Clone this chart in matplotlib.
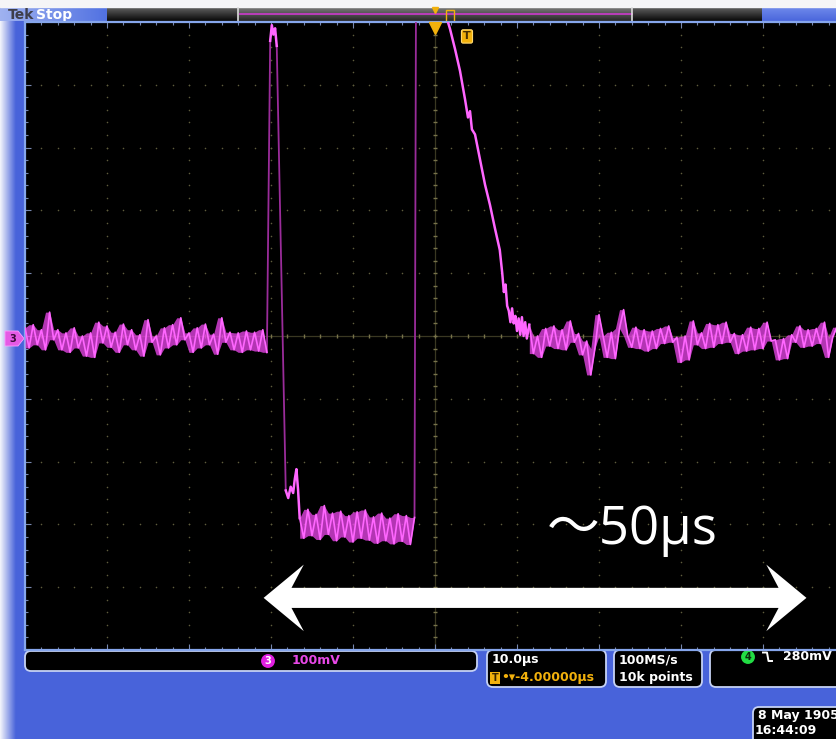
import numpy as np
import matplotlib.pyplot as plt
from matplotlib.patches import Polygon, FancyBboxPatch, Rectangle
from matplotlib.colors import LinearSegmentedColormap
from matplotlib.ticker import MultipleLocator

W, H = 837, 739
DT = 0.5  # sample step of the noisy sections, us

# channel 3 trace: time in us, level in mV (100 mV/div, 10 us/div)
base_left_t0 = -50.0
base_left_mv = [13, -19, 18, -14, 10, -22, 38, -6, 10, -22, 5, -26, 13, -19, 0, -32,
                5, -34, 22, -11, 16, -18, 6, -26, 19, -14, 10, -22, 2, -32, 26, -10,
                0, -30, 13, -19, 18, -14, 29, -6, 5, -26, 13, -19, 19, -14, 3, -29,
                29, -10, 6, -22, 5, -26, 8, -22, 6, -24, 10, -26]

spike_top_t = [-20.1, -19.9, -19.7, -19.5, -19.3]
spike_top_mv = [470, 495, 480, 490, 462]

bump_t = [-18.2, -17.9, -17.6, -17.3, -17.1, -16.9, -16.7, -16.5]
bump_mv = [-246, -258, -240, -250, -228, -212, -245, -290]

plateau_t0 = -16.5
plateau_mv = [-290, -322, -276, -318, -284, -324, -270, -316, -282, -326, -279, -320,
              -286, -328, -280, -322, -277, -325, -288, -330, -282, -326, -290, -331,
              -283, -327, -286, -332, -289]

ramp_t = [1.2, 1.46, 1.83, 2.44, 3.05, 3.66, 4.02, 4.27, 4.5, 4.88, 5.49, 6.1, 6.7,
          7.3, 7.9, 8.2, 8.4, 8.6, 8.8, 9.0, 9.2, 9.4, 9.6, 9.8, 10.0, 10.2, 10.4,
          10.6, 10.8, 11.0, 11.2, 11.5]
ramp_mv = [560, 505, 489, 457, 422, 377, 348, 358, 329, 321, 281, 241, 209,
           172, 137, 100, 70, 82, 48, 40, 22, 44, 20, 32, 8, 28, 2, 30, 0, 22, -4, 18]

base_right_t0 = 11.5
base_right_mv = [18, -28, 0, -34, 12, -16, 16, -20, 10, -22, 24, -10, 4, -30, -8, -62,
                 -20, 34, 0, -34, 6, -36, 12, 42, 0, -18, 14, -20, 10, -24, 8, -20,
                 12, -12, 16, -10, -2, -42, 0, -38, 24, -14, 5, -20, 20, -18, 18, -12,
                 22, -10, 4, -28, 2, -24, 14, -22, 12, -20, 22, -8, -6, -38, -4, -36,
                 2, -10, 16, -18, 10, -16, 12, -12, 22, -34, -2, 14]

# fast edges, only a few acquired points each
edges_t = [[-20.5, -20.1], [-19.3, -18.2], [-2.5, -2.3]]
edges_mv = [[-26, 470], [462, -246], [-289, 620]]

# readouts
ch_label, ch_scale = '3', '100mV'
time_scale, trig_pos = '10.0µs', '-4.00000µs'
sample_rate, record_len = '100MS/s', '10k points'
trig_ch, trig_level = '4', '280mV'
date_str, clock_str = '8 May 1905', '16:44:09'
span_text = '～50μs'

BLUE = '#4863da'
MAG = '#f048f0'
MAG_HI = '#ff66ff'
DIM = '#9a2c9a'
ORANGE = '#f2b10c'
UIFONT = dict(family='DejaVu Sans', fontweight='bold')

fig = plt.figure(figsize=(W / 100, H / 100), dpi=100, facecolor=BLUE)

# ---- instrument frame, in pixel units ----
bg = fig.add_axes([0, 0, 1, 1])
bg.axis('off')


def grad(x0, x1, y0, y1, c0, c1, horizontal=False):
    cm = LinearSegmentedColormap.from_list('g', [c0, c1])
    g = np.linspace(0, 1, 64)
    img = g[None, :] if horizontal else g[:, None]
    bg.imshow(img, cmap=cm, extent=(x0, x1, y1, y0), aspect='auto',
              interpolation='bilinear', zorder=1)


bg.add_patch(Rectangle((0, 0), W, H, color=BLUE, zorder=0))
grad(0, 16, 0, H, '#f4f5fb', BLUE, horizontal=True)
bg.add_patch(Rectangle((0, 0), W, 7, color='#f5f5f7', zorder=2))
grad(0, 107, 7, 21, '#9fb2f0', '#5272e2', horizontal=True)
grad(107, 762, 8, 21, '#5c5c5c', '#080808')
grad(238, 632, 8, 21, '#767676', '#262626')
grad(762, W, 8, 21, '#6d88ea', '#4a66dc')
bg.plot([240, 632], [14, 14], color='#c23cc2', lw=1.3, zorder=3)
for xb in (238, 632):
    bg.plot([xb, xb], [8, 21], color='#dcdcdc', lw=1.2, zorder=3)
bg.plot(435, 9.5, marker='v', ms=5, color=ORANGE, zorder=4)
bg.add_patch(Rectangle((446, 10), 8, 12, fc='none', ec=ORANGE, lw=1, zorder=4))
bg.text(8, 15, 'Tek', color='#3e3e4a', fontsize=10, va='center', zorder=4, **UIFONT)
bg.text(36, 14.5, 'Stop', color='white', fontsize=10, va='center', zorder=4, **UIFONT)

# channel 3 ground marker
bg.add_patch(Polygon([(5, 331), (18, 331), (24, 338.5), (18, 346), (5, 346)],
                     closed=True, fc='#e55ae5', ec='#ff9cff', lw=0.6, zorder=4))
bg.text(13, 338.5, ch_label, color='#3a0a3a', fontsize=7, ha='center', va='center',
        zorder=5, **UIFONT)

# readout boxes along the bottom
for (x0, y0, x1, y1) in [(25, 651, 477, 671), (487, 650, 606, 687),
                         (614, 650, 702, 687), (710, 650, 860, 687),
                         (753, 707, 860, 750)]:
    bg.add_patch(FancyBboxPatch((x0, y0), x1 - x0, y1 - y0,
                                boxstyle='round,pad=0,rounding_size=6',
                                fc='black', ec='#c6d2f4', lw=1.3, zorder=2))

bg.text(268, 661, ch_label, color='white', fontsize=7, ha='center', va='center', zorder=4,
        bbox=dict(boxstyle='circle,pad=0.2', fc='#e020e0', ec='none'), **UIFONT)
bg.text(292, 661, ch_scale, color='#e848e8', fontsize=9, va='center', zorder=4, **UIFONT)
bg.text(492, 660, time_scale, color='white', fontsize=9, va='center', zorder=4, **UIFONT)
bg.text(495, 678, 'T', color='#3a2600', fontsize=7, ha='center', va='center', zorder=4,
        bbox=dict(boxstyle='square,pad=0.12', fc=ORANGE, ec='none'), **UIFONT)
bg.text(501, 678, '•▾' + trig_pos, color=ORANGE, fontsize=9, va='center', zorder=4,
        **UIFONT)
bg.text(619, 660, sample_rate, color='white', fontsize=9, va='center', zorder=4, **UIFONT)
bg.text(619, 678, record_len, color='white', fontsize=9, va='center', zorder=4, **UIFONT)
bg.text(748, 657, trig_ch, color='#0a2a0a', fontsize=7, ha='center', va='center', zorder=4,
        bbox=dict(boxstyle='circle,pad=0.2', fc='#22dd44', ec='none'), **UIFONT)
bg.plot([763, 767, 768.5, 772], [652.5, 652.5, 661, 661], color='white', lw=1.4, zorder=4)
bg.text(783, 657, trig_level, color='white', fontsize=9, va='center', zorder=4, **UIFONT)
# the date box runs off the right edge of the display
bg.text(758, 716, date_str, color='white', fontsize=9, va='center', zorder=4,
        clip_on=True, **UIFONT)
bg.text(755, 731, clock_str, color='white', fontsize=9, va='center', zorder=4, **UIFONT)

bg.set_xlim(0, W)
bg.set_ylim(H, 0)

# ---- the screen ----
ax = fig.add_axes([25 / W, 1 - 650 / H, (W - 25) / W, (650 - 22) / H], facecolor='black')
ax.set_xlim(-50, -50 + (W - 25) / 8.2)
ax.set_ylim(-500, 500)

# graticule: dotted division lines and the centre cross
major_x = np.arange(-40, 50, 10)
major_y = np.arange(-400, 500, 100)
minor_x = np.arange(-50, 50, 2)
minor_y = np.arange(-500, 501, 20)
gx, gy = np.meshgrid(major_x, minor_y)
ax.scatter(gx.ravel(), gy.ravel(), s=1.3, color='#5e5c3c', lw=0, zorder=1)
gx, gy = np.meshgrid(minor_x, major_y)
ax.scatter(gx.ravel(), gy.ravel(), s=1.3, color='#5e5c3c', lw=0, zorder=1)
ax.axhline(0, color='#3a3822', lw=0.9, zorder=1)
ax.axvline(0, color='#3a3822', lw=0.9, zorder=1)
ax.plot(minor_x, np.zeros_like(minor_x), ls='none', marker='|', ms=3.5,
        color='#77724a', zorder=1)
ax.plot(np.zeros_like(minor_y), minor_y, ls='none', marker='_', ms=3.5,
        color='#77724a', zorder=1)

ax.xaxis.set_major_locator(MultipleLocator(10))
ax.xaxis.set_minor_locator(MultipleLocator(2))
ax.yaxis.set_major_locator(MultipleLocator(100))
ax.yaxis.set_minor_locator(MultipleLocator(20))
ax.tick_params(which='both', direction='in', top=True, bottom=True, left=True,
               right=False, labelbottom=False, labelleft=False,
               color='#7888b0', width=0.8)
ax.tick_params(which='major', length=4)
ax.tick_params(which='minor', length=2.5)
for side in ('top', 'left', 'bottom'):
    ax.spines[side].set_color('#86a6ec')
    ax.spines[side].set_linewidth(1.6)
ax.spines['right'].set_visible(False)

# trace
for et, ev in zip(edges_t, edges_mv):
    ax.plot(et, ev, color=DIM, lw=1.3, zorder=3)


def seq(t0, vals):
    return t0 + DT * np.arange(len(vals)), np.asarray(vals, float)


noisy = [seq(base_left_t0, base_left_mv), seq(plateau_t0, plateau_mv),
         seq(base_right_t0, base_right_mv)]
for tt, vv in noisy:
    # persistence band: span of each pair of neighbouring samples
    hi = np.maximum(vv, np.append(vv[1:], vv[-1]))
    lo = np.minimum(vv, np.append(vv[1:], vv[-1]))
    ax.fill_between(tt, lo, hi, color=MAG, alpha=0.75, lw=0, zorder=3)
    ax.plot(tt, vv, color=MAG_HI, lw=1.2, zorder=4)

for tt, vv in [(spike_top_t, spike_top_mv), (bump_t, bump_mv), (ramp_t, ramp_mv)]:
    ax.plot(tt, vv, color=MAG_HI, lw=1.8, zorder=4)

# trigger markers
ax.plot(0, 490, marker='v', ms=8, color=ORANGE, clip_on=False, zorder=6)
ax.text(3.9, 477, 'T', color='#4a3000', fontsize=8, ha='center', va='center', zorder=6,
        bbox=dict(boxstyle='round,pad=0.15', fc=ORANGE, ec='#ffd870', lw=0.8), **UIFONT)

# span annotation
t_l, t_r, v_a = -20.9, 45.3, -417
hl, hj, hw, sw = 4.9, 3.4, 53, 16
ax.add_patch(Polygon([(t_l, v_a), (t_l + hl, v_a + hw), (t_l + hj, v_a + sw),
                      (t_r - hj, v_a + sw), (t_r - hl, v_a + hw), (t_r, v_a),
                      (t_r - hl, v_a - hw), (t_r - hj, v_a - sw), (t_l + hj, v_a - sw),
                      (t_l + hl, v_a - hw)], closed=True, fc='white', ec='none', zorder=7))
ax.text(13.6, -331, span_text, color='white', fontsize=38, ha='left', va='baseline',
        family=['Open Sans', 'Noto Sans CJK JP'], zorder=7)

fig.savefig('out.png', dpi=100, facecolor=fig.get_facecolor())
